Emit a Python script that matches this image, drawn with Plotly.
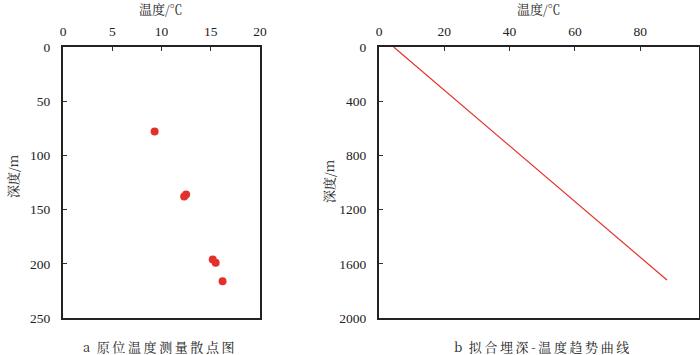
import plotly.graph_objects as go

# Panel a: measured in-situ temperature vs depth
temp_a = [9.3, 12.5, 12.3, 15.2, 15.5, 16.2]
depth_a = [78, 136, 138, 196, 199, 216]

# Panel b: fitted burial depth - temperature trend line
temp_b = [4.5, 88.2]
depth_b = [0, 1720]

x_ticks_a = [0, 5, 10, 15, 20]
y_ticks_a = [0, 50, 100, 150, 200, 250]
x_ticks_b = [0, 20, 40, 60, 80]
y_ticks_b = [0, 400, 800, 1200, 1600, 2000]

W, H = 700, 355
red = "#e5302a"
num_font = dict(family="Liberation Serif, DejaVu Serif, serif", size=13.5, color="#222")
cjk = "Noto Serif CJK SC, Noto Sans CJK SC, sans-serif"

fig = go.Figure()
fig.add_trace(go.Scatter(x=temp_a, y=depth_a, mode="markers",
                         marker=dict(color=red, size=8, line=dict(width=0)),
                         xaxis="x", yaxis="y", showlegend=False))
fig.add_trace(go.Scatter(x=temp_b, y=depth_b, mode="lines",
                         line=dict(color=red, width=1.2),
                         xaxis="x2", yaxis="y2", showlegend=False))

top, bot = 47, 318
yd = [(H - bot) / H, (H - top) / H]

def xa(domain, rng, ticks, anchor):
    return dict(domain=domain, range=rng, tickvals=ticks, side="top",
                ticks="inside", ticklen=4, tickwidth=1, tickcolor="#333",
                showline=True, linewidth=2, linecolor="#222", mirror=True,
                showgrid=False, zeroline=False, tickfont=num_font,
                anchor=anchor, ticklabelstandoff=4, fixedrange=True,
                automargin=False)

def ya(rng, ticks, anchor):
    return dict(domain=yd, range=rng, tickvals=ticks, autorange=False,
                ticks="inside", ticklen=4, tickwidth=1, tickcolor="#333",
                showline=True, linewidth=2, linecolor="#222", mirror=True,
                showgrid=False, zeroline=False, tickfont=num_font,
                anchor=anchor, ticklabelstandoff=8, fixedrange=True,
                automargin=False)

fig.update_layout(
    width=W, height=H, margin=dict(l=0, r=0, t=0, b=0, autoexpand=False),
    paper_bgcolor="white", plot_bgcolor="white",
    xaxis=xa([63 / W, 260 / W], [0, 20], x_ticks_a, "y"),
    yaxis=ya([250, 0], y_ticks_a, "x"),
    xaxis2=xa([379 / W, 699 / W], [0, 98], x_ticks_b, "y2"),
    yaxis2=ya([2000, 0], y_ticks_b, "x2"),
)

def spaced(s):
    return "\u2009".join(s)

ann_font = dict(family=cjk, size=13, color="#222")
anns = [
    dict(text="温度/℃", x=161 / W, y=1 - 9 / H),
    dict(text="温度/℃", x=539 / W, y=1 - 9 / H),
    dict(text="深度/m", x=12 / W, y=1 - 176 / H, textangle=-90),
    dict(text="深度/m", x=328 / W, y=1 - 181 / H, textangle=-90),
    dict(text="a\u2002" + spaced("原位温度测量散点图"), x=158.5 / W, y=1 - 346 / H),
    dict(text="b\u2002" + spaced("拟合埋深-温度趋势曲线"), x=541 / W, y=1 - 346 / H),
]
for a in anns:
    fig.add_annotation(xref="paper", yref="paper", showarrow=False,
                       xanchor="center", yanchor="middle", font=ann_font, **a)

fig.write_html("out.html", config={"displayModeBar": False},
               post_script="document.body.style.margin='0';document.body.style.overflow='hidden';")
